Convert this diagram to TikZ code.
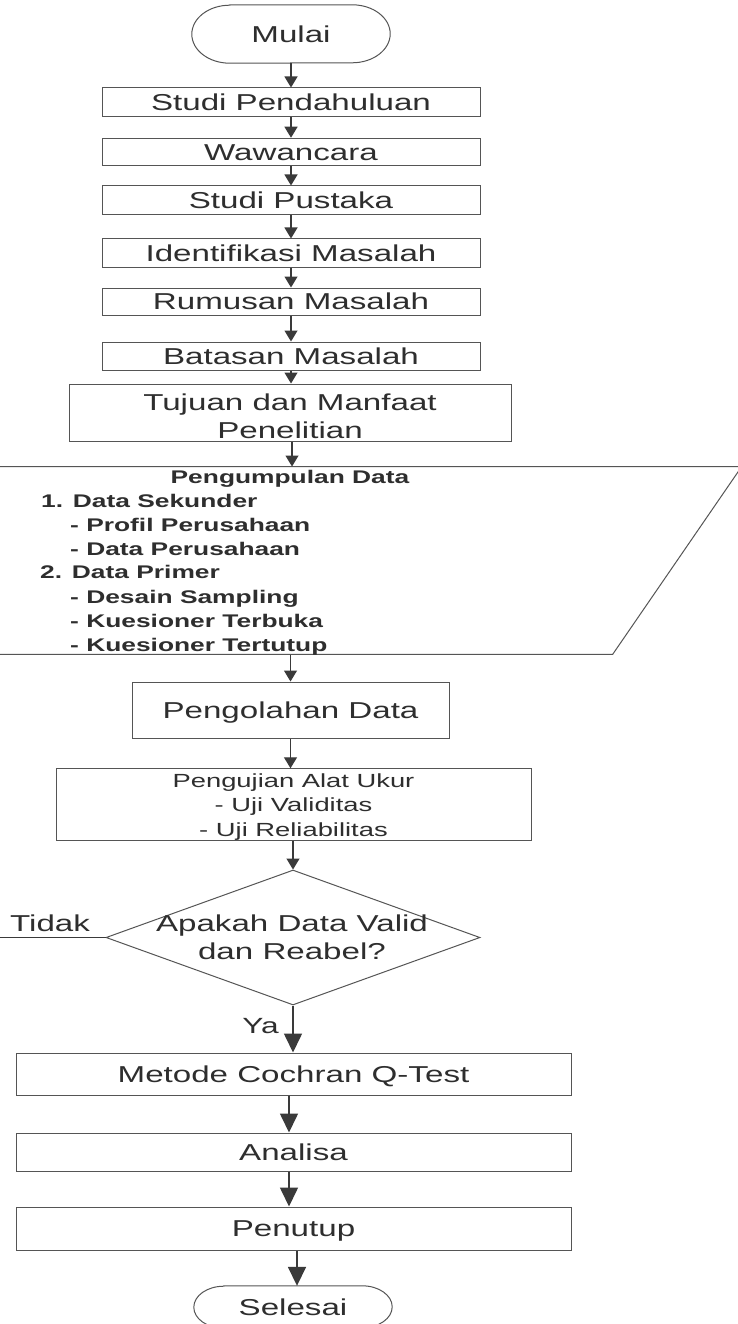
\documentclass[tikz,border=0pt]{standalone}
\usepackage{fontspec}
\setmainfont{Liberation Sans}[FakeStretch=1.44]
\usetikzlibrary{arrows.meta,shapes.geometric,calc}
\definecolor{txt}{HTML}{2E2E2E}
\definecolor{edge}{HTML}{555555}
\definecolor{conn}{HTML}{3A3A3A}
\begin{document}
\begin{tikzpicture}[x=1pt,y=1pt,
  box/.style={draw=edge,line width=1pt,rectangle,inner sep=0pt,text=txt,font=\fontsize{23pt}{28pt}\selectfont},
  one/.style={text height=16.1pt,text depth=0pt},
  multi/.style={align=center},
  lbl/.style={text=txt,inner sep=0pt,font=\fontsize{23pt}{28pt}\selectfont},
  bl/.style={text=txt,inner sep=0pt,font=\fontsize{18.3pt}{24pt}\selectfont\bfseries,anchor=base west},
  arr/.style={draw=conn,line width=1.2pt,-{Triangle[length=11pt,width=13pt]}},
  bigarr/.style={draw=conn,line width=1.6pt,-{Triangle[length=19pt,width=18pt]}},
  outl/.style={draw=edge,line width=1pt},
  plain/.style={draw=conn,line width=1.3pt},
]
\useasboundingbox (0,0) rectangle (738,-1324);
\clip (0,0) rectangle (738,-1324);
\fill[white] (0,0) rectangle (738,-1324);

% start terminal
\node[lbl,one,minimum width=198pt,minimum height=58pt] (mulai) at (291,-34) {Mulai};
\draw[outl] ([xshift=38pt]mulai.north west) -- ([xshift=-38pt]mulai.north east)
  arc[start angle=90,end angle=-90,x radius=38pt,y radius=29pt]
  -- ([xshift=38pt]mulai.south west)
  arc[start angle=270,end angle=90,x radius=38pt,y radius=29pt] -- cycle;

\node[box,one,minimum width=378pt,minimum height=29pt] (studi) at (291,-102.5) {Studi Pendahuluan};
\node[box,one,minimum width=378pt,minimum height=27.5pt] (waw) at (291,-152) {Wawancara};
\node[box,one,minimum width=378pt,minimum height=29pt] (pustaka) at (291,-200.5) {Studi Pustaka};
\node[box,one,minimum width=378pt,minimum height=28pt] (ident) at (291,-253) {Identifikasi Masalah};
\node[box,one,minimum width=378pt,minimum height=27pt] (rumus) at (291,-301.5) {Rumusan Masalah};
\node[box,one,minimum width=378pt,minimum height=28pt] (batas) at (291,-356) {Batasan Masalah};
\node[box,multi,minimum width=442pt,minimum height=57pt] (tujuan) at (290,-412.5) {\rule{0pt}{23.5pt}Tujuan dan Manfaat\\Penelitian};

% data collection (parallelogram)
\node[minimum width=600pt,minimum height=187.6pt,inner sep=0pt] (pd) at (292,-560.5) {};
\draw[outl] (-60,-466.7) -- (741.6,-466.7) -- (612.7,-654.3) -- (-189,-654.3) -- cycle;
\node[bl,anchor=base] (pdt) at (290,-483) {Pengumpulan Data};
\node[bl] (pd1) at (41,-507) {1. Data Sekunder};
\node[bl] (pd2) at (70,-531) {- Profil Perusahaan};
\node[bl] (pd3) at (70,-555) {- Data Perusahaan};
\node[bl] (pd4) at (40,-578) {2. Data Primer};
\node[bl] (pd5) at (70,-603) {- Desain Sampling};
\node[bl] (pd6) at (70,-627) {- Kuesioner Terbuka};
\node[bl] (pd7) at (70,-651) {- Kuesioner Tertutup};

\node[box,one,minimum width=317pt,minimum height=56pt] (olah) at (290.5,-710) {Pengolahan Data};
\node[box,multi,font=\fontsize{19pt}{24.5pt}\selectfont,minimum width=475pt,minimum height=71pt] (uji) at (293.5,-804.5) {\rule{0pt}{18.5pt}Pengujian Alat Ukur\\- Uji Validitas\\- Uji Reliabilitas};

% decision
\node[diamond,draw=edge,line width=1pt,minimum width=374pt,minimum height=135pt,inner sep=0pt] (dec) at (293,-937.5) {};
\node[lbl,align=center] (dectxt) at (292,-937.5) {Apakah Data Valid\\dan Reabel?};
\node[lbl,anchor=base west] (tidak) at (10,-931) {Tidak};
\coordinate (tidakend) at (-5,-937.5);
\node[lbl,anchor=base east,font=\fontsize{22pt}{26pt}\selectfont] (ya) at (279,-1033) {Ya};

\node[box,one,minimum width=555pt,minimum height=42pt] (metode) at (293.5,-1074) {Metode Cochran Q-Test};
\node[box,one,minimum width=555pt,minimum height=38pt] (analisa) at (293.5,-1152) {Analisa};
\node[box,one,minimum width=555pt,minimum height=43pt] (penutup) at (293.5,-1228.5) {Penutup};

% end terminal
\node[lbl,one,minimum width=198pt,minimum height=42pt] (selesai) at (293,-1307) {Selesai};
\draw[outl] ([xshift=30pt]selesai.north west) -- ([xshift=-30pt]selesai.north east)
  arc[start angle=90,end angle=-90,x radius=30pt,y radius=21pt]
  -- ([xshift=30pt]selesai.south west)
  arc[start angle=270,end angle=90,x radius=30pt,y radius=21pt] -- cycle;

% connectors
\draw[arr] (mulai.south) -- (studi.north);
\draw[arr] (studi.south) -- (waw.north);
\draw[arr] (waw.south) -- (pustaka.north);
\draw[arr] (pustaka.south) -- (ident.north);
\draw[arr] (ident.south) -- (rumus.north);
\draw[arr] (rumus.south) -- (batas.north);
\draw[arr] (batas.south) -- (batas.south |- tujuan.north);
\draw[arr] (tujuan.south -| pd.north) -- (pd.north);
\draw[arr] (pd.south -| olah.north) -- (olah.north);
\draw[arr] (olah.south) -- (olah.south |- uji.north);
\draw[arr] (uji.south -| dec.north) -- (dec.north);
\draw[plain] (dec.west) -- (tidakend);
\draw[bigarr] (dec.south) -- (dec.south |- metode.north);
\draw[bigarr] ([xshift=-4.5pt]metode.south) -- ([xshift=-4.5pt]analisa.north);
\draw[bigarr] ([xshift=-4.5pt]analisa.south) -- ([xshift=-4.5pt]penutup.north);
\draw[bigarr] ([xshift=3.5pt]penutup.south) -- ([xshift=4pt]selesai.north);
\end{tikzpicture}
\end{document}
